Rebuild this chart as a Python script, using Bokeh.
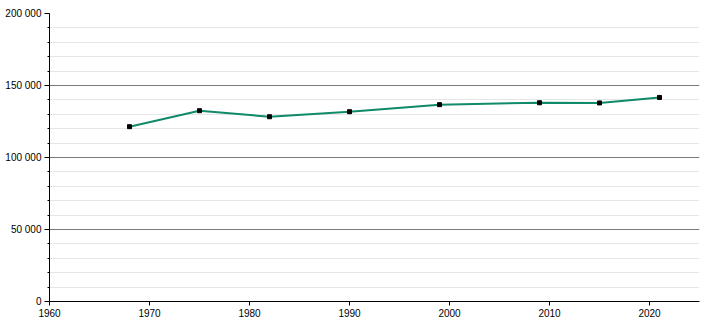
from bokeh.plotting import figure
from bokeh.embed import file_html
from bokeh.resources import INLINE
from bokeh.models import FixedTicker, Range1d

years = [1968, 1975, 1982, 1990, 1999, 2009, 2015, 2021]
population = [121400, 132500, 128300, 131800, 136700, 138000, 137900, 141700]

x_ticks = [1960, 1970, 1980, 1990, 2000, 2010, 2020]
y_ticks = [0, 50000, 100000, 150000, 200000]
y_minor = list(range(0, 200001, 10000))
y_labels = {0: "0", 50000: "50 000", 100000: "100 000", 150000: "150 000", 200000: "200 000"}

p = figure(width=710, height=320, output_backend="svg", toolbar_location=None,
           x_range=Range1d(1960, 2025), y_range=Range1d(0, 200000))
p.min_border_left = 49
p.min_border_right = 11
p.min_border_top = 13
p.min_border_bottom = 19
p.outline_line_color = None
p.background_fill_color = "white"
p.border_fill_color = "white"

p.xgrid.grid_line_color = None
p.ygrid.ticker = FixedTicker(ticks=y_ticks, minor_ticks=y_minor)
p.ygrid.grid_line_color = "#7a7a7a"
p.ygrid.grid_line_width = 1
p.ygrid.minor_grid_line_color = "#e6e6e6"
p.ygrid.minor_grid_line_width = 1

p.xaxis.ticker = FixedTicker(ticks=x_ticks)
p.yaxis.ticker = FixedTicker(ticks=y_ticks, minor_ticks=y_minor)
p.yaxis.major_label_overrides = y_labels

for ax in (p.xaxis[0], p.yaxis[0]):
    ax.axis_line_color = "black"
    ax.axis_line_width = 1
    ax.major_tick_line_color = "black"
    ax.major_tick_in = 0
    ax.major_tick_out = 4
    ax.major_label_text_font = "Liberation Sans"
    ax.major_label_text_font_size = "10px"
    ax.major_label_text_color = "black"

p.xaxis.minor_tick_line_color = None
p.xaxis.major_label_standoff = 3
p.yaxis.minor_tick_line_color = "black"
p.yaxis.minor_tick_in = 0
p.yaxis.minor_tick_out = 2
p.yaxis.major_tick_out = 5
p.yaxis.major_label_standoff = 3

p.line(years, population, line_color="#108a68", line_width=2)
p.scatter(years, population, marker="square", size=4, fill_color="black", line_color="black")

open("out.html", "w").write(file_html(p, INLINE))
